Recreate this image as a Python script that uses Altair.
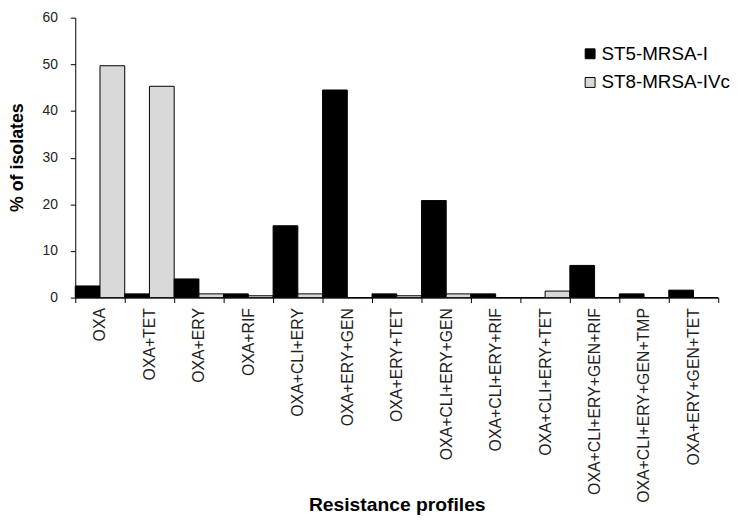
import altair as alt
import pandas as pd

categories = ["OXA", "OXA+TET", "OXA+ERY", "OXA+RIF", "OXA+CLI+ERY", "OXA+ERY+GEN",
              "OXA+ERY+TET", "OXA+CLI+ERY+GEN", "OXA+CLI+ERY+RIF", "OXA+CLI+ERY+TET",
              "OXA+CLI+ERY+GEN+RIF", "OXA+CLI+ERY+GEN+TMP", "OXA+ERY+GEN+TET"]
series = ["ST5-MRSA-I", "ST8-MRSA-IVc"]
st5_values = [2.5, 0.8, 4.0, 0.8, 15.4, 44.5, 0.8, 20.8, 0.8, 0.0, 6.9, 0.8, 1.6]
st8_values = [49.7, 45.3, 0.8, 0.4, 0.8, 0.0, 0.4, 0.8, 0.0, 1.4, 0.0, 0.0, 0.0]
colors = ["#000000", "#d9d9d9"]

rows = []
for c, a, b in zip(categories, st5_values, st8_values):
    rows.append({"profile": c, "group": series[0], "pct": a})
    rows.append({"profile": c, "group": series[1], "pct": b})
df = pd.DataFrame(rows)

FONT = "Liberation Sans"

chart = alt.Chart(df).mark_bar(stroke="#000000", strokeWidth=1).encode(
    x=alt.X("profile:N", sort=categories,
            scale=alt.Scale(paddingInner=0, paddingOuter=0),
            axis=alt.Axis(title="Resistance profiles", labelAngle=-90, tickBand="extent",
                          labelFontSize=16, labelPadding=5, tickSize=5, labelLimit=0,
                          titleFontSize=19.5, titleFontWeight="bold",
                          titleY=215, titleBaseline="alphabetic")),
    xOffset=alt.XOffset("group:N", sort=series, scale=alt.Scale(paddingInner=0, paddingOuter=0)),
    y=alt.Y("pct:Q", scale=alt.Scale(domain=[0, 60], nice=False),
            axis=alt.Axis(title="% of isolates", values=[0, 10, 20, 30, 40, 50, 60],
                          grid=False, tickSize=5, labelPadding=13, labelFontSize=14,
                          titleFontSize=18, titleFontWeight="bold",
                          titleX=-58, titleY=141, titleAngle=-90,
                          titleAlign="center", titleBaseline="middle")),
    color=alt.Color("group:N", sort=series,
                    scale=alt.Scale(domain=series, range=colors),
                    legend=alt.Legend(title=None, orient="none", legendX=511, legendY=27,
                                      symbolType="square", symbolSize=100,
                                      symbolStrokeColor="#000000", symbolStrokeWidth=1,
                                      labelFontSize=19, labelOffset=2, rowPadding=9,
                                      padding=0,
                                      labelFont=FONT, labelColor="#000000")),
).properties(
    width=650, height=283,
    autosize=alt.AutoSizeParams(type="none"),
    padding={"left": 68, "top": 7, "right": 21, "bottom": 220},
).configure_axis(
    domainColor="#000000", tickColor="#000000", labelColor="#222222",
    titleColor="#000000", labelFont=FONT, titleFont=FONT, domainWidth=1, tickWidth=1,
).configure_view(stroke=None)

chart.save("out.html", embed_options={"renderer": "svg", "actions": False})
